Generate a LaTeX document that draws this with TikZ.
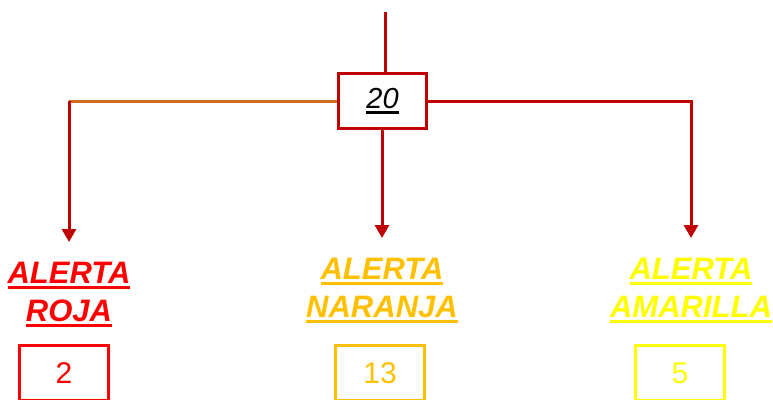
\documentclass[tikz,border=0pt]{standalone}
\usepackage{fontspec}
\setmainfont{Liberation Sans}
\usetikzlibrary{arrows.meta}
\usetikzlibrary{positioning}

\definecolor{darkred}{RGB}{192,0,0}
\definecolor{lineorange}{RGB}{208,108,32}
\definecolor{alertred}{RGB}{255,0,0}
\definecolor{alertorange}{RGB}{255,192,0}
\definecolor{alertyellow}{RGB}{255,255,0}

% thick underline, as in the slide
\newcommand\thickul[1]{\setbox0\hbox{#1}\leavevmode\rlap{\rule[-5pt]{\wd0}{2.6pt}}\box0}

\begin{document}
\begin{tikzpicture}
[
x=1pt, y=-1pt,
                    total/.style   ={draw=darkred, line width=3pt, minimum width=88pt, minimum height=55pt, inner sep=0pt, font=\fontsize{29}{32}\selectfont\itshape},
                    alert/.style   ={align=center, inner sep=0pt, anchor=north, font=\fontsize{31}{38}\selectfont\bfseries\itshape},
                    count/.style   ={draw, line width=3pt, minimum width=89pt, minimum height=55pt, inner sep=0pt, font=\fontsize{30}{32}\selectfont},
                    line/.style    ={draw=darkred, line width=3pt},
                    arrow/.style   ={line, -{Triangle[width=14pt,length=13pt]}, shorten >=20pt},
                    ]
\useasboundingbox (0,0) rectangle (773,399);

\node[total] (total) at (382.5,101) {\thickul{20}};
\coordinate (top) at (385,12);

\node[alert, text=alertred] (roja) at (69,262) {\thickul{ALERTA}\\\thickul{ROJA}};
\node[alert, text=alertorange] (naranja) at (382,258) {\thickul{ALERTA}\\\thickul{NARANJA}};
\node[alert, text=alertyellow] (amarilla) at (691,258) {\thickul{ALERTA}\\\thickul{AMARILLA}};

\node[count, draw=alertred, text=alertred] (nroja) at (64,373) {2};
\node[count, draw=alertorange, text=alertorange] (nnaranja) at (380,373) {13};
\node[count, draw=alertyellow, text=alertyellow] (namarilla) at (680,373) {5};

\path[line] (top) -- (top |- total.north);
\path[line, draw=lineorange] (total.west) -- (total.west -| roja.north);
\path[arrow] (total.west -| roja.north) -- (roja.north);
\path[arrow] (total.south) -- (total.south -| naranja.north) -- (naranja.north);
\path[arrow] (total.east) -| (amarilla.north);
\end{tikzpicture}
\end{document}
